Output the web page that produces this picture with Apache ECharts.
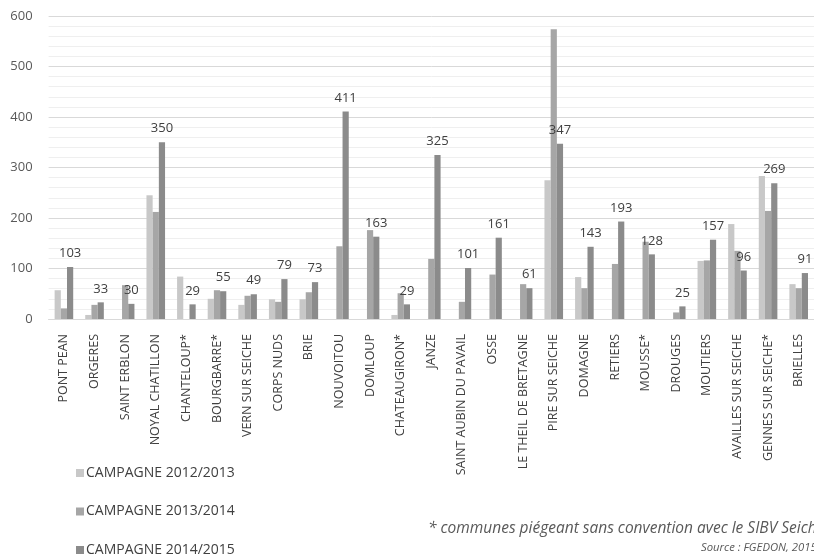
<!DOCTYPE html>
<html>
<head>
<meta charset="utf-8">
<script src="https://cdn.jsdelivr.net/npm/echarts@6/dist/echarts.min.js"></script>
<style>
html,body{margin:0;padding:0;background:#fff;}
#chart{width:814px;height:557px;}
</style>
</head>
<body>
<div id="chart"></div>
<script>
const categories = ['PONT PEAN','ORGERES','SAINT ERBLON','NOYAL CHATILLON','CHANTELOUP*','BOURGBARRE*','VERN SUR SEICHE','CORPS NUDS','BRIE','NOUVOITOU','DOMLOUP','CHATEAUGIRON*','JANZE','SAINT AUBIN DU PAVAIL','OSSE','LE THEIL DE BRETAGNE','PIRE SUR SEICHE','DOMAGNE','RETIERS','MOUSSE*','DROUGES','MOUTIERS','AVAILLES SUR SEICHE','GENNES SUR SEICHE*','BRIELLES'];
const campagne2012 = [57,8,null,245,84,40,28,39,39,null,null,8,null,null,null,null,275,83,null,null,null,115,188,283,69];
const campagne2013 = [21,28,67,212,null,57,46,34,53,144,176,51,119,34,88,69,574,61,109,153,13,116,135,214,61];
const campagne2014 = [103,33,30,350,29,55,49,79,73,411,163,29,325,101,161,61,347,143,193,128,25,157,96,269,91];
const seriesNames = ['CAMPAGNE 2012/2013','CAMPAGNE 2013/2014','CAMPAGNE 2014/2015'];
const yTicks = [0,100,200,300,400,500,600];
const footnote = '* communes piégeant sans convention avec le SIBV Seiche';
const source = 'Source : FGEDON, 2015';

const FONT = '"Open Sans", sans-serif';
const chart = echarts.init(document.getElementById('chart'), null, {renderer:'canvas'});
const colors = ['#c8c8c8','#a6a6a6','#8b8b8b'];
const barW = 6.2;
const mk = (name, data, color, lbl) => ({
  name, type:'bar', data, barWidth: barW, barGap:'0%',
  itemStyle:{color},
  label: lbl ? {show:true, position:'top', distance:7, color:'#404040', fontSize:13, fontFamily:FONT} : {show:false},
  emphasis:{disabled:true}
});
const legendTops = [466, 504.5, 543];
chart.setOption({
  animation:false,
  textStyle:{fontFamily:FONT},
  grid:{left:48.6, top:16, width:770, height:303, containLabel:false},
  legend: seriesNames.map((n, i) => ({
    orient:'vertical', left:74, top:legendTops[i], itemWidth:8, itemHeight:8, padding:[0,2],
    icon:'rect', selectedMode:false,
    textStyle:{color:'#404040', fontSize:14, fontFamily:FONT, lineHeight:14, padding:[0,0,0,-3]},
    data:[n]
  })),
  xAxis:{
    type:'category', data:categories,
    axisLine:{show:true, lineStyle:{color:'#d9d9d9', width:1}},
    axisTick:{show:false},
    axisLabel:{rotate:90, interval:0, color:'#404040', fontSize:12.5, fontFamily:FONT, margin:15}
  },
  yAxis:{
    type:'value', min:yTicks[0], max:yTicks[yTicks.length-1], interval:100,
    axisLine:{show:false}, axisTick:{show:false},
    axisLabel:{color:'#595959', fontSize:13, fontFamily:FONT, margin:16},
    splitLine:{show:true, lineStyle:{color:'#d9d9d9', width:1}},
    minorTick:{show:false, splitNumber:5},
    minorSplitLine:{show:true, lineStyle:{color:'#efefef', width:1}}
  },
  series:[
    mk(seriesNames[0], campagne2012, colors[0], false),
    mk(seriesNames[1], campagne2013, colors[1], false),
    mk(seriesNames[2], campagne2014, colors[2], true)
  ],
  graphic:[
    {type:'text', left:428, top:521, style:{text:footnote, font:'italic 15.5px "Open Sans", sans-serif', fill:'#595959'}},
    {type:'text', left:701, top:542, style:{text:source, font:'italic 11.3px "Open Sans", sans-serif', fill:'#595959'}}
  ]
});
</script>
</body>
</html>
